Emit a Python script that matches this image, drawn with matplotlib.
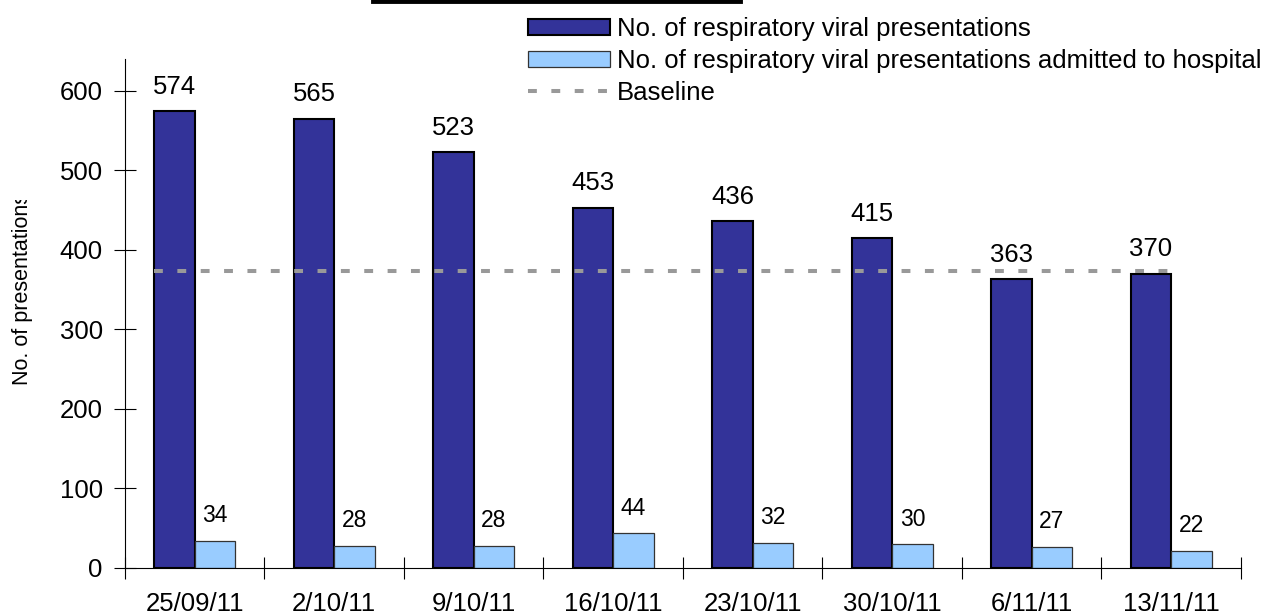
import numpy as np
import matplotlib
matplotlib.use("Agg")
import matplotlib.pyplot as plt
from matplotlib.lines import Line2D
from matplotlib.transforms import Bbox, TransformedBbox

plt.rcParams['font.family'] = ['Liberation Sans', 'DejaVu Sans']

weeks = ['25/09/11', '2/10/11', '9/10/11', '16/10/11',
         '23/10/11', '30/10/11', '6/11/11', '13/11/11']
presentations = [574, 565, 523, 453, 436, 415, 363, 370]
admitted = [34, 28, 28, 44, 32, 30, 27, 22]
baseline = 374

fig = plt.figure(figsize=(12.7, 6.12), dpi=100)
ax = fig.add_axes([0.0984, 0.0719, 0.8787, 0.8317])

x = np.arange(len(weeks))
w = 0.29
b1 = ax.bar(x - w / 2, presentations, w, color='#333399', edgecolor='black',
            linewidth=1.5, label='No. of respiratory viral presentations', zorder=2)
b2 = ax.bar(x + w / 2, admitted, w, color='#99CCFF', edgecolor='#333333',
            linewidth=0.9, label='No. of respiratory viral presentations admitted to hospital',
            zorder=2)
ln, = ax.plot([x[0] - w, x[-1]], [baseline, baseline], color='#999999', lw=2.9,
              dashes=(2.2, 3.6), label='Baseline', zorder=3)

# data labels above the bars
for xi, v in zip(x, presentations):
    ax.annotate(str(v), (xi - w / 2, v), xytext=(0, 17.5), textcoords='offset points',
                ha='center', va='center', fontsize=18.5)
for xi, v in zip(x, admitted):
    ax.annotate(str(v), (xi + w / 2, v), xytext=(0, 18), textcoords='offset points',
                ha='center', va='center', fontsize=16.5)

ax.set_xlim(-0.5, len(weeks) - 0.5)
ax.set_ylim(0, 640)
ax.set_yticks(range(0, 700, 100))
ax.set_xticks(np.arange(len(weeks) + 1) - 0.5)
ax.set_xticklabels([])
ax.set_xticks(x, minor=True)
ax.set_xticklabels(weeks, minor=True)
ax.tick_params(axis='both', which='major', direction='inout', length=16, width=0.8,
               labelsize=18.5, pad=8)
ax.tick_params(axis='x', which='minor', length=0, labelsize=18.5, pad=17)
for s in ['top', 'right']:
    ax.spines[s].set_visible(False)
for s in ['left', 'bottom']:
    ax.spines[s].set_linewidth(0.8)

ylab = fig.text(0.0175, 0.528, 'No. of presentations', rotation=90, ha='center',
                va='center', fontsize=15.5)
ylab.set_clip_box(TransformedBbox(Bbox([[0, 0], [1, 1 - 200 / 612]]), fig.transFigure))
ylab.set_clip_on(True)

leg = fig.legend([b1, b2, ln], [b1.get_label(), b2.get_label(), ln.get_label()],
                 loc='upper left', bbox_to_anchor=(0.4157, 0.972), frameon=False,
                 fontsize=18.5, handlelength=3.2, handleheight=0.58, handletextpad=0.27,
                 labelspacing=0.3, borderpad=0, borderaxespad=0)

# underline of the title cut off at the top edge
fig.add_artist(Line2D([0.2937, 0.5827], [0.9985, 0.9985], color='black', lw=3.5,
                      transform=fig.transFigure))

fig.savefig('out.png', dpi=100)
